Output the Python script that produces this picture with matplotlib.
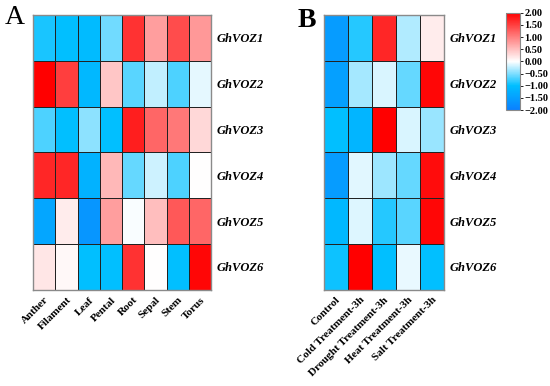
import matplotlib
matplotlib.use("Agg")
import matplotlib.pyplot as plt
import numpy as np
from matplotlib.colors import LinearSegmentedColormap, Normalize

genes = ["GhVOZ1", "GhVOZ2", "GhVOZ3", "GhVOZ4", "GhVOZ5", "GhVOZ6"]
tissues = ["Anther", "Filament", "Leaf", "Pental", "Root", "Sepal", "Stem", "Torus"]
treatments = ["Control", "Cold Treatment-3h", "Drought Treatment-3h",
              "Heat Treatment-3h", "Salt Treatment-3h"]

tissue_values = [
    [-0.90, -1.00, -1.05, -0.55, 1.60, 0.75, 1.40, 0.80],
    [2.00, 1.50, -1.10, 0.45, -0.65, -0.25, -0.70, -0.10],
    [-0.70, -1.00, -0.45, -1.00, 1.75, 1.20, 1.05, 0.30],
    [1.70, 1.70, -1.20, 0.55, -0.60, -0.20, -0.70, 0.00],
    [-1.40, 0.15, -1.65, 0.75, -0.02, 0.50, 1.30, 1.20],
    [0.20, 0.05, -1.00, -1.00, 1.60, 0.00, -1.00, 1.95],
]

treatment_values = [
    [-1.55, -0.85, 1.70, -0.30, 0.15],
    [-1.50, -0.35, -0.15, -0.60, 1.95],
    [-1.00, -1.15, 2.00, -0.15, -0.40],
    [-1.55, -0.12, -0.38, -0.60, 1.90],
    [-1.10, -0.13, -0.85, -0.65, 1.95],
    [-0.95, 2.00, -1.00, -0.08, -1.00],
]

cbar_ticks = [-2, -1.5, -1, -0.5, 0, 0.5, 1, 1.5, 2]

cmap = LinearSegmentedColormap.from_list(
    "bwr_custom",
    [(0.0, "#0a80ff"), (0.25, "#00bfff"), (0.5, "#ffffff"), (1.0, "#ff0000")],
)
norm = Normalize(vmin=-2, vmax=2)

plt.rcParams["font.family"] = ["Liberation Serif", "DejaVu Serif"]
plt.rcParams["font.weight"] = "bold"

fig = plt.figure(figsize=(5.5, 3.86), dpi=100)


def draw_heatmap(ax, values, xlabels):
    data = np.array(values)
    mesh = ax.pcolormesh(data, cmap=cmap, norm=norm,
                         edgecolors="#222222", linewidth=0.7)
    ax.set_xlim(0, data.shape[1])
    ax.set_ylim(data.shape[0], 0)
    ax.set_xticks(np.arange(data.shape[1]) + 0.5)
    ax.set_xticklabels(xlabels, rotation=45, ha="right", rotation_mode="anchor",
                       fontsize=8, fontweight="bold")
    ax.set_yticks(np.arange(data.shape[0]) + 0.5)
    ax.set_yticklabels(genes, fontsize=9, fontweight="bold", fontstyle="italic")
    ax.yaxis.tick_right()
    ax.tick_params(length=0, pad=4)
    for spine in ax.spines.values():
        spine.set_color("#8a8a8a")
        spine.set_linewidth(1.0)
    return mesh


ax_a = fig.add_axes([0.06, 0.249, 0.324, 0.712])
draw_heatmap(ax_a, tissue_values, tissues)

ax_b = fig.add_axes([0.589, 0.249, 0.218, 0.712])
mesh = draw_heatmap(ax_b, treatment_values, treatments)

cax = fig.add_axes([0.92, 0.715, 0.0255, 0.252])
cbar = fig.colorbar(mesh, cax=cax, ticks=cbar_ticks)
cbar.ax.set_yticklabels([f"{t:.2f}".replace("-", "\u2212") for t in cbar_ticks],
                        fontsize=7.5, fontweight="bold")
cbar.ax.tick_params(length=2, width=0.6, pad=1)
cbar.outline.set_edgecolor("#8a8a8a")

fig.text(0.027, 0.955, "A", fontsize=20, fontweight="normal", ha="center", va="center")
fig.text(0.558, 0.948, "B", fontsize=20, fontweight="bold", ha="center", va="center")

fig.savefig("out.png", dpi=100)
